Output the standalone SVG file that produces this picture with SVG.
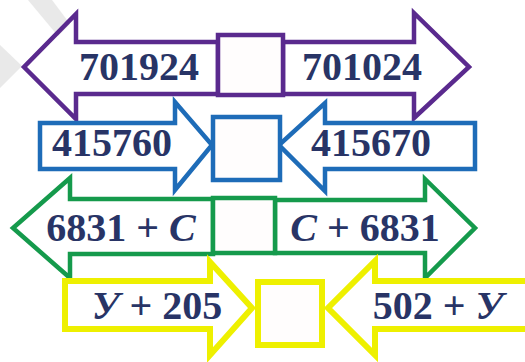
<svg xmlns="http://www.w3.org/2000/svg" width="525" height="362" viewBox="0 0 525 362">
<style>
.arw{fill:none;stroke-linejoin:miter;stroke-miterlimit:10}
.p{stroke:#5a2a8e;stroke-width:4.5}
.b{stroke:#1e6cb8;stroke-width:4.5}
.g{stroke:#159a4c;stroke-width:4.5}
.y{stroke:#eef000;stroke-width:6}
.box{fill:#fffdfd}
.t{font-family:"Liberation Serif","Times New Roman",serif;font-weight:bold;font-size:40px;fill:#283466;text-anchor:middle}
.i{font-style:italic}
</style>
<rect width="525" height="362" fill="#ffffff"/>
<g id="shade" fill="#e4e4e4" opacity="0.8">
<polygon points="28,0 52,0 70,24 58,36"/>
<polygon points="0,45 22,66 0,88"/>
</g>
<g id="connectors">
<polygon class="arw p" points="218,42 76,42 76,14 24,67 76,119 76,94 218,94"/>
<polygon class="arw p" points="283,42 414,42 414,13 469,67 414,118 414,94 283,94"/>
<polygon class="arw b" points="40,123 175,123 175,102 212,145 175,190 175,169 40,169"/>
<polygon class="arw b" points="475,123 325,123 325,103 279,145 325,191 325,169 475,169"/>
<polygon class="arw g" points="213,199 70,199 70,178 13,228 70,278 70,254 213,254"/>
<polygon class="arw g" points="275,200 425,200 425,179 475,228 425,278 425,253 275,253"/>
<polygon class="arw y" points="65,281 210,281 210,262 252,308 210,355 210,329 65,329"/>
<polygon class="arw y" points="530,281 375,281 375,261 328,308 375,355 375,329 530,329"/>
</g>
<g id="row1">
<rect class="box p" x="218" y="35" width="65" height="60"/>
<text class="t" x="139" y="80">701924</text>
<text class="t" x="362" y="80">701024</text>
</g>
<g id="row2">
<rect class="box b" x="213" y="117" width="67" height="63"/>
<text class="t" x="112" y="156">415760</text>
<text class="t" x="371" y="156">415670</text>
</g>
<g id="row3">
<rect class="box g" x="213" y="198" width="62" height="55"/>
<text class="t" x="121" y="241">6831 + <tspan class="i">C</tspan></text>
<text class="t" x="365" y="241"><tspan class="i">C</tspan> + 6831</text>
</g>
<g id="row4">
<rect class="box y" x="258" y="282" width="64" height="63"/>
<text class="t" x="157" y="319"><tspan class="i">У</tspan> + 205</text>
<text class="t" x="438" y="319">502 + <tspan class="i">У</tspan></text>
</g>
</svg>
